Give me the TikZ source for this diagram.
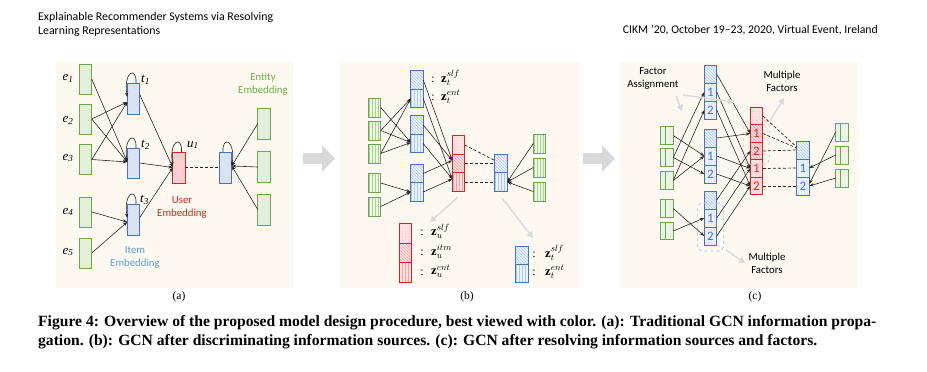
\documentclass[tikz,border=0pt]{standalone}
\usepackage{fontspec}
\setmainfont{Liberation Serif}
\newfontfamily\carl{Carlito}
\usetikzlibrary{arrows.meta,patterns,fit}
\definecolor{panelbg}{HTML}{FEF9F0}
\definecolor{gline}{HTML}{6AA84F}
\definecolor{gfill}{HTML}{E2F0D9}
\definecolor{ghatch}{HTML}{A9D18E}
\definecolor{bline}{HTML}{4472C4}
\definecolor{bfill}{HTML}{DAE3F3}
\definecolor{bhatch}{HTML}{ADCBEA}
\definecolor{rline}{HTML}{E02020}
\definecolor{rfill}{HTML}{FBD0D0}
\definecolor{rhatch}{HTML}{F4A0A0}
\definecolor{gtext}{HTML}{70AD47}
\definecolor{btext}{HTML}{5B9BD5}
\definecolor{rtext}{HTML}{E02020}
\definecolor{arrgrey}{HTML}{D9D9D9}
\tikzset{
  cell/.style={minimum width=12.5pt, minimum height=18pt, inner sep=0pt, outer sep=0pt, line width=0.9pt},
  gcell/.style={cell, draw=gline, fill=gfill},
  bcell/.style={cell, draw=bline, fill=bfill},
  rcell/.style={cell, draw=rline, fill=rfill},
  gstripe/.style={cell, draw=gline, preaction={fill=gfill!60}, pattern=vertical lines, pattern color=ghatch},
  bstripe/.style={cell, draw=bline, preaction={fill=bfill!50}, pattern=vertical lines, pattern color=bhatch},
  bdiag/.style={cell, draw=bline, preaction={fill=bfill!50}, pattern=north west lines, pattern color=bhatch},
  rstripe/.style={cell, draw=rline, preaction={fill=rfill!60}, pattern=vertical lines, pattern color=rhatch},
  rdiag/.style={cell, draw=rline, preaction={fill=rfill!60}, pattern=north west lines, pattern color=rhatch},
  rdots/.style={cell, draw=rline, preaction={fill=rfill!60}, pattern=dots, pattern color=rhatch},
  bnum/.style={cell, draw=bline, preaction={fill=bfill!40}, pattern=vertical lines, pattern color=bhatch!45, text=bline, font=\carl\fontsize{13}{13}\selectfont},
  rnum/.style={cell, draw=rline, fill=rfill!70, text=rline, font=\carl\fontsize{13}{13}\selectfont},
  rnumd/.style={rdiag, text=rline, font=\carl\fontsize{13}{13}\selectfont},
  gdiv/.style={cell, draw=gline, fill=gfill!70},
  edge/.style={draw=black!85, line width=0.6pt, -{Stealth[length=4.5pt,width=3.2pt]}},
  dline/.style={draw=black!85, line width=0.7pt, dash pattern=on 3pt off 2pt},
  garrow/.style={draw=arrgrey, line width=1.4pt, -{Triangle[length=6pt,width=6.5pt]}},
  lbl/.style={font=\carl\fontsize{10.8}{13}\selectfont, align=center, inner sep=0pt},
  vlab/.style={font=\fontsize{13}{13}\selectfont\itshape, inner sep=0pt},
  zlab/.style={font=\fontsize{12.5}{13}\selectfont, inner sep=0pt, anchor=west, text height=7pt, text depth=2.5pt},
  colon/.style={font=\fontsize{12}{13}\selectfont, inner sep=0pt},
  sub/.style={font=\fontsize{11.5}{12}\selectfont, inner sep=0pt},
}
\begin{document}
\begin{tikzpicture}[x=1pt,y=-1pt]
\fill[white] (0,0) rectangle (927,372);
\useasboundingbox (0,0) rectangle (927,372);

% header
\node[anchor=west, inner sep=0pt] (h1) at (38,17) {\resizebox{235pt}{!}{\carl Explainable Recommender Systems via Resolving}};
\node[anchor=west, inner sep=0pt] (h2) at (38,31) {\resizebox{122pt}{!}{\carl Learning Representations}};
\node[anchor=east, inner sep=0pt] (h3) at (878,30) {\resizebox{255pt}{!}{\carl CIKM ’20, October 19–23, 2020, Virtual Event, Ireland}};

% panel backgrounds
\fill[panelbg] (56,62) rectangle (293,288);
\fill[panelbg] (340,62) rectangle (579,288);
\fill[panelbg] (620,62) rectangle (858,288);

% big arrows
\fill[arrgrey] (303,153) -- (322,153) -- (322,145) -- (335,158.5) -- (322,172) -- (322,164) -- (303,164) -- cycle;
\fill[arrgrey] (583,153) -- (602,153) -- (602,145) -- (615,158.5) -- (602,172) -- (602,164) -- (583,164) -- cycle;

%================ panel (a)
\foreach \n/\y in {e1/79,e2/119,e3/159.5,e4/212,e5/253}
  \node[gcell, minimum height=30pt] (\n) at (85.5,\y) {};
\node[vlab] (le1) at (68,78) {e\textsubscript{1}};
\node[vlab] (le2) at (68,120) {e\textsubscript{2}};
\node[vlab] (le3) at (68,158) {e\textsubscript{3}};
\node[vlab] (le4) at (68,212) {e\textsubscript{4}};
\node[vlab] (le5) at (68,252) {e\textsubscript{5}};

\node[bcell, minimum height=31pt] (t1) at (133.5,98.5) {};
\node[bcell, minimum height=30pt] (t2) at (133.5,163) {};
\node[bcell, minimum height=31pt] (t3) at (133.5,219.5) {};
\node[vlab, anchor=west] (lt1) at (141,80) {t\textsubscript{1}};
\node[vlab, anchor=west] (lt2) at (141,145) {t\textsubscript{2}};
\node[vlab, anchor=west] (lt3) at (140,200) {t\textsubscript{3}};

\node[rcell, minimum height=31pt] (u1) at (179,167.5) {};
\node[vlab, anchor=west] (lu1) at (187,145) {u\textsubscript{1}};
\node[bcell, minimum height=31pt] (ta) at (225.5,167.5) {};
\foreach \n/\y in {n1/123.5,n2/167,n3/209.5}
  \node[gcell, minimum height=31pt] (\n) at (264,\y) {};

\node[lbl, text=gtext] (entlab) at (263,84.5) {Entity\\Embedding};
\node[lbl, text=rtext] (userlab) at (182,207) {User\\Embedding};
\node[lbl, text=btext] (itemlab) at (135,257.5) {Item\\Embedding};

\draw[edge] (e1.east) -- ([yshift=1pt]t2.west);
\draw[edge] (e2.east) -- ([yshift=-3.5pt]t1.west);
\draw[edge] (e2.east) -- ([yshift=1pt]t2.west);
\draw[edge] (e3.east) -- ([yshift=-3.5pt]t1.west);
\draw[edge] (e3.east) -- ([yshift=1pt]t2.west);
\draw[edge] (e4.east) -- ([yshift=-2.5pt]t3.west);
\draw[edge] (e5.east) -- ([yshift=-2.5pt]t3.west);
\draw[edge] ([yshift=4pt]t1.east) -- (u1.west);
\draw[edge] (t2.east) -- (u1.west);
\draw[edge] ([yshift=2pt]t3.east) -- (u1.west);
\draw[edge] (n1.west) -- ([yshift=1.5pt]ta.east);
\draw[edge] (n2.west) -- ([yshift=1.5pt]ta.east);
\draw[edge] (n3.west) -- ([yshift=1.5pt]ta.east);
\draw[dline] (u1.east) -- (ta.west);
\foreach \n in {t1,t2,t3,u1}
  \draw[edge] ([xshift=2.5pt]\n.north) .. controls +(1,-17) and +(-4,-26) .. ([yshift=-14pt]\n.north west);
\draw[edge] ([xshift=-2.5pt]ta.north) .. controls +(-1,-17) and +(4,-26) .. ([yshift=-14pt]ta.north east);

%================ panel (b)
\foreach \n/\y in {gb1/107.5,gb2/130.5,gb3/153.5,gb4/183,gb5/206.5}
  \node[gstripe, minimum height=19pt] (\n) at (374.5,\y) {};
\node[bdiag, minimum height=18.5pt] (ib1t) at (417,80) {};
\node[bstripe, minimum height=18.5pt] (ib1b) at (417,98.5) {};
\node[bdiag, minimum height=18.5pt] (ib2t) at (417,125) {};
\node[bstripe, minimum height=18.5pt] (ib2b) at (417,143.5) {};
\node[bdiag, minimum height=18.5pt] (ib3t) at (417,173.5) {};
\node[bstripe, minimum height=18.5pt] (ib3b) at (417,192) {};
\node[rdots, minimum height=18.5pt] (rt) at (458.5,145) {};
\node[rdiag, minimum height=18.5pt] (rm) at (458.5,163.5) {};
\node[rstripe, minimum height=18.5pt] (rb) at (458.5,182) {};
\node[bdiag, minimum height=18.5pt] (bt) at (501,163.5) {};
\node[bstripe, minimum height=18.5pt] (bb) at (501,182) {};
\foreach \n/\y in {gr1/143.5,gr2/167.5,gr3/191.5}
  \node[gstripe, minimum height=19pt] (\n) at (539.5,\y) {};

\node[colon] (c1) at (433,80) {:};
\node[colon] (c2) at (433,98) {:};
\node[zlab] (z1) at (441,80) {$\mathbf{z}_t^{slf}$};
\node[zlab] (z2) at (441,98) {$\mathbf{z}_t^{ent}$};

\node[rdots, minimum height=20pt] (lr1) at (405.5,233) {};
\node[rdiag, minimum height=20pt] (lr2) at (405.5,253) {};
\node[rstripe, minimum height=19.5pt] (lr3) at (405.5,272.5) {};
\node[colon] (c3) at (422,233) {:};
\node[colon] (c4) at (422,253) {:};
\node[colon] (c5) at (422,272.5) {:};
\node[zlab] (z3) at (431,233) {$\mathbf{z}_u^{slf}$};
\node[zlab] (z4) at (431,253) {$\mathbf{z}_u^{itm}$};
\node[zlab] (z5) at (431,272.5) {$\mathbf{z}_u^{ent}$};
\node[bdiag, minimum height=18pt] (lb1) at (522,255) {};
\node[bstripe, minimum height=18pt] (lb2) at (522,273) {};
\node[colon] (c6) at (534,255) {:};
\node[colon] (c7) at (534,273) {:};
\node[zlab] (z6) at (545,255) {$\mathbf{z}_t^{slf}$};
\node[zlab] (z7) at (545,273) {$\mathbf{z}_t^{ent}$};

\draw[edge] (gb1.east) -- ([yshift=1pt]ib2b.west);
\draw[edge] (gb2.east) -- (ib1b.west);
\draw[edge] (gb2.east) -- ([yshift=1pt]ib2b.west);
\draw[edge] (gb3.east) -- (ib1b.west);
\draw[edge] (gb3.east) -- ([yshift=1pt]ib2b.west);
\draw[edge] (gb4.east) -- (ib3b.west);
\draw[edge] (gb5.east) -- (ib3b.west);
\foreach \n in {ib1t,ib2t,ib3t}
  \draw[edge] (\n.east) -- ([yshift=3pt]rm.west);
\foreach \n in {ib1b,ib2b,ib3b}
  \draw[edge] (\n.east) -- ([yshift=3pt]rb.west);
\draw[dline] (rt.east) -- ([yshift=3pt]bt.west);
\draw[dline] (rm.east) -- (bt.west);
\draw[dline] (rb.east) -- (bb.west);
\foreach \n in {gr1,gr2,gr3}
  \draw[edge] (\n.west) -- (bb.east);
\coordinate (ga1) at (458,197);
\coordinate (ga2) at (430,222);
\coordinate (ga3) at (502,198);
\coordinate (ga4) at (533,238);
\draw[garrow] (ga1) -- (ga2);
\draw[garrow] (ga3) -- (ga4);

%================ panel (c)
\foreach \n/\y in {cg1/135.5,cg2/157.5,cg3/180.5,cg4/208.5,cg5/231}{
  \node[gdiv, minimum height=17.5pt] (\n) at (667,\y) {};
  \draw[gline, line width=0.8pt] ([xshift=5pt]\n.north west) -- ([xshift=5pt]\n.south west);
}
\node[bdiag] (c1h) at (710.5,74) {};
\node[bnum] (c1a) at (710.5,92) {1};
\node[bnum] (c1b) at (710.5,110) {2};
\node[bdiag] (c2h) at (710.5,138) {};
\node[bnum] (c2a) at (710.5,156) {1};
\node[bnum] (c2b) at (710.5,174) {2};
\node[bdiag] (c3h) at (710.5,200) {};
\node[bnum] (c3a) at (710.5,218) {1};
\node[bnum] (c3b) at (710.5,236) {2};

\node[rdots, minimum height=17.5pt] (cr0) at (756.5,116) {};
\node[rnumd, minimum height=17.5pt] (cr1) at (756.5,133.5) {1};
\node[rnumd, minimum height=17.5pt] (cr2) at (756.5,151) {2};
\node[rnum, minimum height=17.5pt] (cr3) at (756.5,168.5) {1};
\node[rnum, minimum height=17.5pt] (cr4) at (756.5,186) {2};

\node[bdiag] (cb0) at (803,150) {};
\node[bnum] (cb1) at (803,168) {1};
\node[bnum] (cb2) at (803,186) {2};
\foreach \n/\y in {cgr1/132,cgr2/155,cgr3/178}{
  \node[gdiv] (\n) at (842,\y) {};
  \draw[gline, line width=0.8pt] ([xshift=4.5pt]\n.north west) -- ([xshift=4.5pt]\n.south west);
}

\node[draw=rhatch!80, dashed, line width=0.9pt, rounded corners=5pt, fit=(cr1)(cr2), inner xsep=6.5pt, inner ysep=4.5pt] (rfit) {};
\node[draw=bhatch, dashed, line width=0.9pt, rounded corners=5pt, fit=(c3a)(c3b), inner xsep=7pt, inner ysep=6pt] (bfit) {};

\node[lbl] (falab) at (653,78.5) {Factor\\Assignment};
\node[lbl] (mf1) at (782,81.5) {Multiple\\Factors};
\node[lbl] (mf2) at (767,263.5) {Multiple\\Factors};

\draw[edge] (cg1.east) -- (c2a.west);
\draw[edge] (cg2.east) -- (c1a.west);
\draw[edge] (cg2.east) -- (c2b.west);
\draw[edge] (cg3.east) -- (c1b.west);
\draw[edge] (cg3.east) -- (c2a.west);
\draw[edge] (cg4.east) -- (c3b.west);
\draw[edge] (cg5.east) -- (c3a.west);
\draw[edge] (c1h.east) -- (cr1.west);
\draw[edge] (c2h.east) -- (cr1.west);
\draw[edge] (c3h.east) -- (cr2.west);
\foreach \n in {c1a,c2a,c3a}
  \draw[edge] (\n.east) -- (cr3.west);
\foreach \n in {c1b,c2b,c3b}
  \draw[edge] (\n.east) -- (cr4.west);
\draw[dline] (cr0.east) -- ([yshift=3pt]cb0.west);
\draw[dline] (cr1.east) -- ([yshift=2pt]cb0.west);
\draw[dline] (cr2.east) -- (cb0.west);
\draw[dline] (cr3.east) -- (cb1.west);
\draw[dline] (cr4.east) -- (cb2.west);
\draw[edge] (cgr1.west) -- ([yshift=2pt]cb2.east);
\draw[edge] (cgr2.west) -- (cb1.east);
\draw[edge] (cgr3.west) -- (cb2.east);

\coordinate (fa0) at (676,96);
\coordinate (fa1) at (682,111);
\coordinate (fa2) at (683,95);
\coordinate (fa3) at (734,102);
\draw[garrow] (fa0) -- (fa1);
\draw[garrow] (fa2) -- (fa3);
\coordinate (mt0) at (770,121);
\coordinate (mt1) at (784,98);
\draw[garrow] (mt0) -- (mt1);
\coordinate (mb0) at (726,250);
\coordinate (mb1) at (745,263);
\draw[garrow] (mb0) -- (mb1);

% sub captions
\node[sub] (sa) at (179,297) {(a)};
\node[sub] (sb) at (467,297) {(b)};
\node[sub] (sc) at (755,297) {(c)};

% caption
\node[anchor=west, inner sep=0pt] (cap1) at (38,323) {\resizebox{838pt}{!}{\bfseries Figure 4: Overview of the proposed model design procedure, best viewed with color. (a): Traditional GCN information propa-}};
\node[anchor=west, inner sep=0pt] (cap2) at (38,342) {\resizebox{779pt}{!}{\bfseries gation. (b): GCN after discriminating information sources. (c): GCN after resolving information sources and factors.}};
\end{tikzpicture}
\end{document}
